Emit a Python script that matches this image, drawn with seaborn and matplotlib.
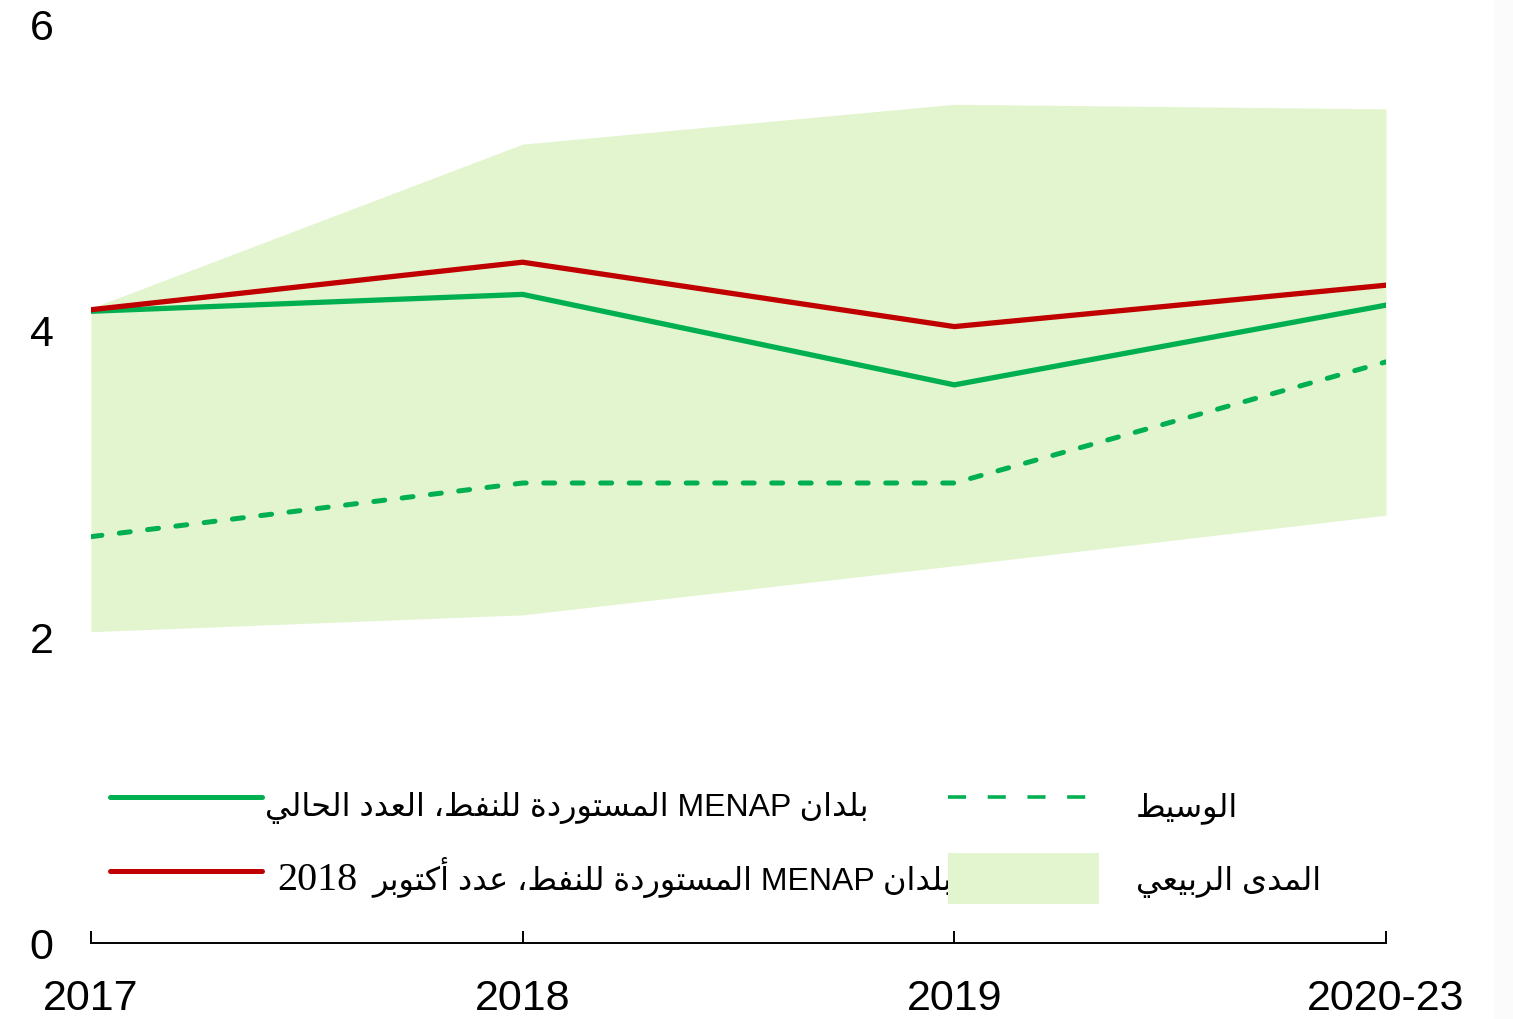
import numpy as np
import pandas as pd
import matplotlib
matplotlib.use("Agg")
import matplotlib.pyplot as plt
import seaborn as sns
from matplotlib.lines import Line2D
from matplotlib.patches import Patch, Rectangle
from matplotlib.offsetbox import TextArea

# --- data ---
periods = ["2017", "2018", "2019", "2020-23"]
current_vals = [4.12, 4.23, 3.64, 4.16]      # MENAP oil importers, current issue
oct2018_vals = [4.13, 4.44, 4.02, 4.29]      # MENAP oil importers, October 2018 issue
median_vals = [2.65, 3.00, 3.00, 3.79]
iqr_low = [2.03, 2.14, 2.46, 2.79]
iqr_high = [4.14, 5.21, 5.47, 5.44]
y_ticks = [0, 2, 4, 6]

lbl_current = "بلدان MENAP المستوردة للنفط، العدد الحالي"
lbl_oct = "بلدان MENAP المستوردة للنفط، عدد أكتوبر"
lbl_year = "2018"
lbl_median = "الوسيط"
lbl_iqr = "المدى الربيعي"

GREEN = "#00b050"
RED = "#c00000"
BAND = "#e3f5cf"

# matplotlib has no Arabic shaping, so pick contextual forms by hand
# letter: (isolated, final, initial, medial)
FORMS = {
    "ا": ("\ufe8d", "\ufe8e", None, None),
    "أ": ("\ufe83", "\ufe84", None, None),
    "ب": ("\ufe8f", "\ufe90", "\ufe91", "\ufe92"),
    "ة": ("\ufe93", "\ufe94", None, None),
    "ت": ("\ufe95", "\ufe96", "\ufe97", "\ufe98"),
    "ح": ("\ufea1", "\ufea2", "\ufea3", "\ufea4"),
    "د": ("\ufea9", "\ufeaa", None, None),
    "ر": ("\ufead", "\ufeae", None, None),
    "س": ("\ufeb1", "\ufeb2", "\ufeb3", "\ufeb4"),
    "ط": ("\ufec1", "\ufec2", "\ufec3", "\ufec4"),
    "ع": ("\ufec9", "\ufeca", "\ufecb", "\ufecc"),
    "ف": ("\ufed1", "\ufed2", "\ufed3", "\ufed4"),
    "ك": ("\ufed9", "\ufeda", "\ufedb", "\ufedc"),
    "ل": ("\ufedd", "\ufede", "\ufedf", "\ufee0"),
    "م": ("\ufee1", "\ufee2", "\ufee3", "\ufee4"),
    "ن": ("\ufee5", "\ufee6", "\ufee7", "\ufee8"),
    "و": ("\ufeed", "\ufeee", None, None),
    "ى": ("\ufeef", "\ufef0", None, None),
    "ي": ("\ufef1", "\ufef2", "\ufef3", "\ufef4"),
}


def shape_word(word):
    out = []
    for i, ch in enumerate(word):
        if ch not in FORMS:
            out.append(ch)
            continue
        iso, fin, ini, med = FORMS[ch]
        prev = word[i - 1] if i > 0 else ""
        nxt = word[i + 1] if i + 1 < len(word) else ""
        jp = prev in FORMS and FORMS[prev][2] is not None
        jn = ini is not None and nxt in FORMS
        if jp and jn:
            out.append(med)
        elif jp:
            out.append(fin)
        elif jn:
            out.append(ini)
        else:
            out.append(iso)
    return "".join(out)


def rtl(text):
    vis = []
    for w in reversed(text.split(" ")):
        if any(ch in FORMS for ch in w):
            vis.append(shape_word(w)[::-1])
        else:
            vis.append(w)
    return " ".join(vis)


sns.set_style("white")
plt.rcParams["font.family"] = ["Liberation Sans", "DejaVu Sans"]
plt.rcParams["text.color"] = "black"
plt.rcParams["xtick.color"] = "black"
plt.rcParams["ytick.color"] = "black"

df = pd.DataFrame({
    "x": np.arange(len(periods)),
    "current": current_vals,
    "oct2018": oct2018_vals,
    "median": median_vals,
    "low": iqr_low,
    "high": iqr_high,
})

fig = plt.figure(figsize=(15.13, 10.2), dpi=100)
ax = fig.add_axes([91 / 1513, 76 / 1020, 1295 / 1513, 920 / 1020])

ax.fill_between(df["x"], df["low"], df["high"], color=BAND, lw=0, zorder=1)
sns.lineplot(data=df, x="x", y="median", ax=ax, color=GREEN, lw=3.6, zorder=3)
ax.lines[-1].set_dashes([2.2, 3.5])
ax.lines[-1].set_dash_capstyle("round")
sns.lineplot(data=df, x="x", y="current", ax=ax, color=GREEN, lw=3.8, zorder=4)
sns.lineplot(data=df, x="x", y="oct2018", ax=ax, color=RED, lw=3.8, zorder=5)

ax.set_xlim(0, 3)
ax.set_ylim(0, 6)
ax.set_xticks(df["x"])
ax.set_xticklabels(periods)
ax.set_yticks(y_ticks)
ax.set_xlabel("")
ax.set_ylabel("")
for s in ["left", "right", "top"]:
    ax.spines[s].set_visible(False)
ax.spines["bottom"].set_color("black")
ax.spines["bottom"].set_linewidth(1.4)
ax.tick_params(axis="x", bottom=True, direction="in", length=9, width=1.4,
               color="black", labelsize=31, pad=25)
ax.tick_params(axis="y", left=False, length=0, labelsize=31, pad=27)

handles = [
    Line2D([], [], color=GREEN, lw=3.6),
    Line2D([], [], color=RED, lw=3.6),
    Line2D([], [], color=GREEN, lw=2.6, dashes=[5, 6]),
    Patch(facecolor=BAND, edgecolor="none"),
]
labels = [rtl(lbl_current), rtl(lbl_oct), rtl(lbl_median), rtl(lbl_iqr)]
leg = ax.legend(handles, labels, ncol=2, loc="lower left",
                bbox_to_anchor=(0.0147, 0.042), frameon=False,
                fontsize=23, handlelength=4.75, handleheight=2.1,
                handletextpad=0.1, labelspacing=0.7, columnspacing=-0.15,
                borderpad=0, borderaxespad=0)

# the year in the October label is set in a serif face, as in the source
cols = leg._legend_handle_box.get_children()
oct_row = cols[0].get_children()[1]
year_box = TextArea(lbl_year, textprops=dict(fontsize=29, family="Liberation Serif"))
year_box.set_figure(fig)
oct_row.get_children().insert(1, year_box)
oct_row.sep = 11
for row in cols[1].get_children():
    row.sep = 26

# faint grey strip on the right edge of the reference image
fig.patches.append(Rectangle((1494 / 1513, 0), 19 / 1513, 1, transform=fig.transFigure,
                             facecolor="#fbfbfb", edgecolor="none", zorder=0))

fig.savefig("out.png", dpi=100)
